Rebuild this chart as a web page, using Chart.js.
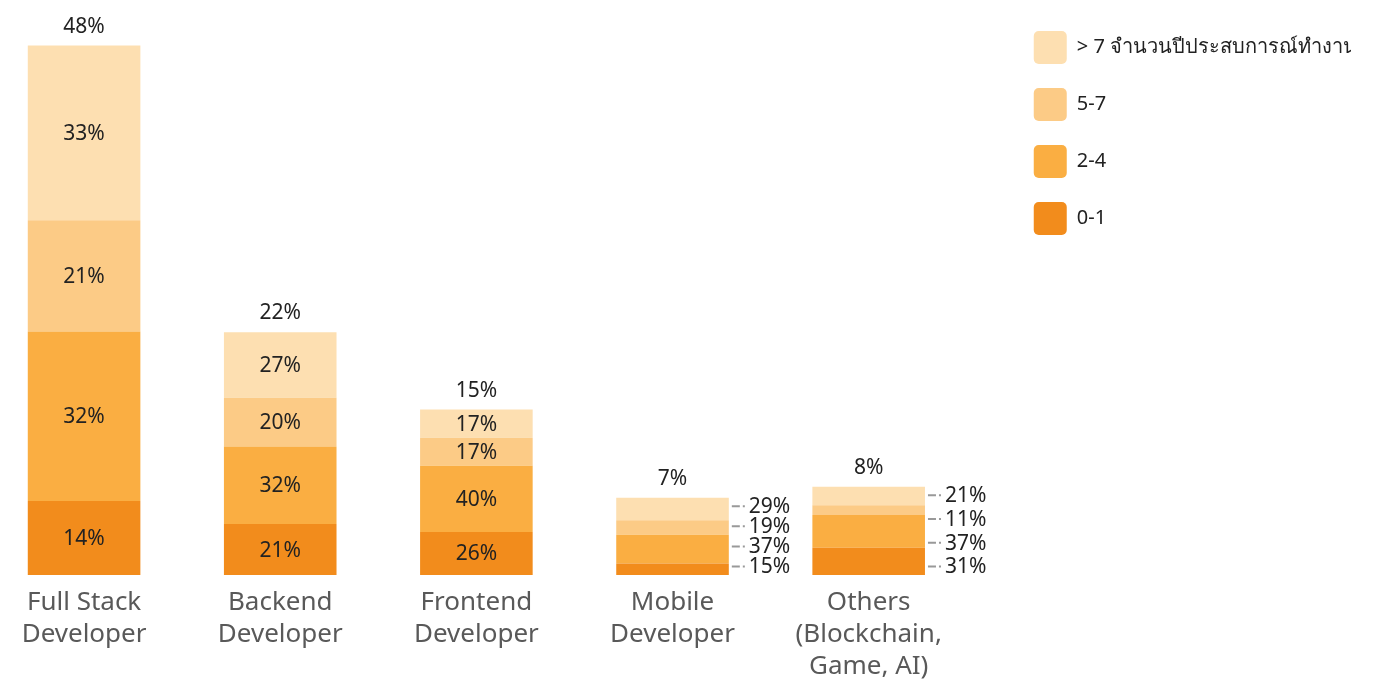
<!DOCTYPE html>
<html>
<head>
<meta charset="utf-8">
<script src="https://cdn.jsdelivr.net/npm/chart.js@4.4.1/dist/chart.umd.min.js"></script>
<style>
    html, body { margin: 0; padding: 0; background: #fff; overflow: hidden; }
    #wrap { width: 1392px; height: 679px; margin-left: -14px; }
</style>
</head>
<body>
<div id="wrap"><canvas id="roleChart"></canvas></div>
<script>
// ================= DATA =================
const categories = [
    ["Full Stack", "Developer"],
    ["Backend", "Developer"],
    ["Frontend", "Developer"],
    ["Mobile", "Developer"],
    ["Others", "(Blockchain,", "Game, AI)"]
];
// share of respondents in each role (%)
const roleTotals = [48, 22, 15, 7, 8];

// split of each role by years of experience (% of the role)
const exp01 = [14, 21, 26, 15, 31];
const exp24 = [32, 32, 40, 37, 37];
const exp57 = [21, 20, 17, 19, 11];
const exp7plus = [33, 27, 17, 29, 21];

const seriesNames = ["0-1", "2-4", "5-7", "> 7 จำนวนปีประสบการณ์ทำงาน"];
const seriesColors = ["#F28C1C", "#FAAE42", "#FCCB86", "#FDDFB1"];

const FONT = "'Noto Sans', 'Open Sans', sans-serif";

// ================= LABEL PLUGIN =================
const segmentLabels = {
    id: "segmentLabels",
    afterDatasetsDraw(chart) {
        const ctx = chart.ctx;
        const shares = chart.data.datasets.map(d => d.shares);
        const n = chart.data.labels.length;

        ctx.save();
        ctx.font = "21px " + FONT;
        ctx.fillStyle = "#222";
        ctx.textBaseline = "middle";

        for (let i = 0; i < n; i++) {
            const els = chart.data.datasets.map((d, di) => chart.getDatasetMeta(di).data[i]);
            const top = els[els.length - 1];

            // total above bar
            ctx.textAlign = "center";
            ctx.fillText(roleTotals[i] + "%", top.x, top.y - 19);

            if (roleTotals[i] >= 10) {
                els.forEach((el, di) => {
                    ctx.fillText(shares[di][i] + "%", el.x, (el.y + el.base) / 2 + 1);
                });
            } else {
                // small bars: labels on the right, spread evenly along the bar
                const yTop = top.y + 8.5;
                const yBottom = els[0].base - 8.5;
                const step = (yBottom - yTop) / (els.length - 1);
                els.forEach((el, di) => {
                    const y = yBottom - di * step;
                    const x0 = el.x + el.width / 2 + 3;
                    ctx.strokeStyle = "#999";
                    ctx.lineWidth = 2;
                    ctx.setLineDash([8, 3, 2, 20]);
                    ctx.beginPath();
                    ctx.moveTo(x0, y);
                    ctx.lineTo(x0 + 13, y);
                    ctx.stroke();
                    ctx.setLineDash([]);
                    ctx.textAlign = "left";
                    ctx.fillText(shares[di][i] + "%", x0 + 17, y + 1);
                });
            }
        }
        ctx.restore();
    }
};

// ================= CHART =================
const shareLists = [exp01, exp24, exp57, exp7plus];

const datasets = shareLists.map((list, k) => ({
    label: seriesNames[k],
    data: list.map((p, i) => roleTotals[i] * p / 100),
    shares: list,
    backgroundColor: seriesColors[k],
    borderWidth: 0,
    barPercentage: 0.574,
    categoryPercentage: 1
}));

new Chart(document.getElementById("roleChart"), {
    type: "bar",
    data: { labels: categories, datasets: datasets },
    options: {
        responsive: true,
        maintainAspectRatio: false,
        animation: false,
        layout: { padding: { left: 0, top: 7, right: 27, bottom: 0 } },
        plugins: {
            tooltip: { enabled: false },
            legend: {
                position: "right",
                align: "start",
                reverse: true,
                labels: {
                    boxWidth: 33,
                    boxHeight: 33,
                    padding: 24,
                    useBorderRadius: true,
                    borderRadius: 5,
                    color: "#222",
                    font: { family: FONT, size: 20 }
                }
            }
        },
        scales: {
            x: {
                stacked: true,
                grid: { display: false },
                border: { display: false },
                ticks: {
                    color: "#595959",
                    padding: 4,
                    font: { family: FONT, size: 26, lineHeight: 1.23 },
                    maxRotation: 0,
                    autoSkip: false
                },
                afterFit: scale => { scale.height = 104; }
            },
            y: {
                stacked: true,
                position: "right",
                min: 0,
                max: 51.5,
                grid: { display: false },
                border: { display: false },
                ticks: { display: false },
                afterFit: scale => { scale.width = 43; }
            }
        }
    },
    plugins: [segmentLabels]
});
</script>
</body>
</html>
